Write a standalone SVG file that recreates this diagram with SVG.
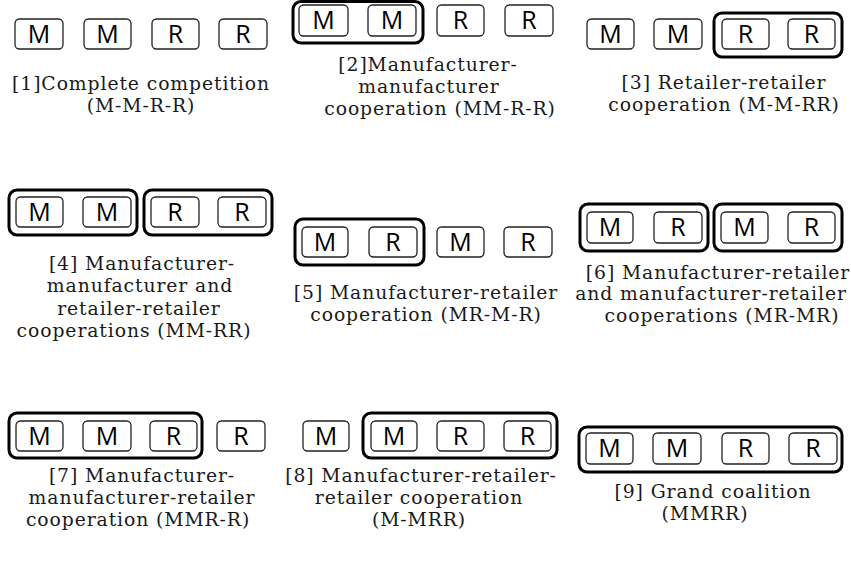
<svg xmlns="http://www.w3.org/2000/svg" width="851" height="563" viewBox="0 0 851 563">
<style>
.b{fill:#fff;stroke:#222;stroke-width:1.3}
.o{fill:none;stroke:#000;stroke-width:3}
.l{font-family:"Open Sans","Liberation Sans",sans-serif;font-size:25px;fill:#000;text-anchor:middle}
.c{font-family:"DejaVu Serif","Liberation Serif",serif;font-size:18.8px;letter-spacing:0.9px;fill:#1a1a1a;text-anchor:middle}
</style>
<rect width="851" height="563" fill="#fff"/>
<g id="connectors"/>
<!-- Panel 1 -->
<g id="p1">
<g id="p1-m1"><rect class="b" x="15" y="19" width="48" height="30" rx="4.5"/><text class="l" x="39" y="43">M</text></g>
<g id="p1-m2"><rect class="b" x="84" y="19" width="47" height="30" rx="4.5"/><text class="l" x="107.5" y="43">M</text></g>
<g id="p1-r1"><rect class="b" x="152" y="19" width="47" height="30" rx="4.5"/><text class="l" x="175.5" y="43">R</text></g>
<g id="p1-r2"><rect class="b" x="219" y="19" width="48" height="30" rx="4.5"/><text class="l" x="243" y="43">R</text></g>
<text class="c" x="141" y="89.5">[1]Complete competition</text>
<text class="c" x="141" y="111.5">(M-M-R-R)</text>
</g>
<!-- Panel 2 -->
<g id="p2">
<rect class="o" x="293" y="1.5" width="130" height="41.5" rx="8"/>
<g id="p2-m1"><rect class="b" x="299" y="5" width="49" height="31" rx="4.5"/><text class="l" x="323.5" y="29">M</text></g>
<g id="p2-m2"><rect class="b" x="368" y="5" width="48" height="31" rx="4.5"/><text class="l" x="392" y="29">M</text></g>
<g id="p2-r1"><rect class="b" x="437" y="5" width="47" height="31" rx="4.5"/><text class="l" x="460.5" y="29">R</text></g>
<g id="p2-r2"><rect class="b" x="505" y="5" width="48" height="31" rx="4.5"/><text class="l" x="529" y="29">R</text></g>
<text class="c" x="428" y="71">[2]Manufacturer-</text>
<text class="c" x="429" y="93">manufacturer</text>
<text class="c" x="440" y="115">cooperation (MM-R-R)</text>
</g>
<!-- Panel 3 -->
<g id="p3">
<rect class="o" x="714" y="13" width="128" height="44" rx="8"/>
<g id="p3-m1"><rect class="b" x="587" y="19" width="47" height="30" rx="4.5"/><text class="l" x="610.5" y="43">M</text></g>
<g id="p3-m2"><rect class="b" x="654" y="19" width="48" height="30" rx="4.5"/><text class="l" x="678" y="43">M</text></g>
<g id="p3-r1"><rect class="b" x="722" y="19" width="47" height="30" rx="4.5"/><text class="l" x="745.5" y="43">R</text></g>
<g id="p3-r2"><rect class="b" x="788" y="19" width="47" height="30" rx="4.5"/><text class="l" x="811.5" y="43">R</text></g>
<text class="c" x="724" y="88.5">[3] Retailer-retailer</text>
<text class="c" x="724" y="110.5">cooperation (M-M-RR)</text>
</g>
<!-- Panel 4 -->
<g id="p4">
<rect class="o" x="9" y="190" width="128" height="45" rx="8"/>
<rect class="o" x="144" y="190" width="128" height="45" rx="8"/>
<g id="p4-m1"><rect class="b" x="16" y="197" width="47" height="30" rx="4.5"/><text class="l" x="39.5" y="221">M</text></g>
<g id="p4-m2"><rect class="b" x="83" y="197" width="48" height="30" rx="4.5"/><text class="l" x="107" y="221">M</text></g>
<g id="p4-r1"><rect class="b" x="151" y="197" width="48" height="30" rx="4.5"/><text class="l" x="175" y="221">R</text></g>
<g id="p4-r2"><rect class="b" x="218" y="197" width="48" height="30" rx="4.5"/><text class="l" x="242" y="221">R</text></g>
<text class="c" x="142" y="269.5">[4] Manufacturer-</text>
<text class="c" x="140" y="292">manufacturer and</text>
<text class="c" x="139" y="314.5">retailer-retailer</text>
<text class="c" x="134" y="337">cooperations (MM-RR)</text>
</g>
<!-- Panel 5 -->
<g id="p5">
<rect class="o" x="295" y="219" width="129" height="46" rx="8"/>
<g id="p5-m1"><rect class="b" x="302" y="227" width="46" height="30" rx="4.5"/><text class="l" x="325" y="251">M</text></g>
<g id="p5-r1"><rect class="b" x="369" y="227" width="48" height="30" rx="4.5"/><text class="l" x="393" y="251">R</text></g>
<g id="p5-m2"><rect class="b" x="437" y="227" width="47" height="30" rx="4.5"/><text class="l" x="460.5" y="251">M</text></g>
<g id="p5-r2"><rect class="b" x="504" y="227" width="48" height="30" rx="4.5"/><text class="l" x="528" y="251">R</text></g>
<text class="c" x="426" y="298.5">[5] Manufacturer-retailer</text>
<text class="c" x="426" y="320.5">cooperation (MR-M-R)</text>
</g>
<!-- Panel 6 -->
<g id="p6">
<rect class="o" x="580" y="204" width="128" height="47" rx="8"/>
<rect class="o" x="714" y="204" width="128" height="47" rx="8"/>
<g id="p6-m1"><rect class="b" x="587" y="212" width="46" height="31" rx="4.5"/><text class="l" x="610" y="236">M</text></g>
<g id="p6-r1"><rect class="b" x="654" y="212" width="48" height="31" rx="4.5"/><text class="l" x="678" y="236">R</text></g>
<g id="p6-m2"><rect class="b" x="721" y="212" width="47" height="31" rx="4.5"/><text class="l" x="744.5" y="236">M</text></g>
<g id="p6-r2"><rect class="b" x="788" y="212" width="47" height="31" rx="4.5"/><text class="l" x="811.5" y="236">R</text></g>
<text class="c" x="718" y="278.5">[6] Manufacturer-retailer</text>
<text class="c" x="711" y="300">and manufacturer-retailer</text>
<text class="c" x="722" y="322">cooperations (MR-MR)</text>
</g>
<!-- Panel 7 -->
<g id="p7">
<rect class="o" x="9" y="413" width="193" height="45" rx="8"/>
<g id="p7-m1"><rect class="b" x="16" y="421" width="47" height="30" rx="4.5"/><text class="l" x="39.5" y="445">M</text></g>
<g id="p7-m2"><rect class="b" x="83" y="421" width="48" height="30" rx="4.5"/><text class="l" x="107" y="445">M</text></g>
<g id="p7-r1"><rect class="b" x="150" y="421" width="47" height="30" rx="4.5"/><text class="l" x="173.5" y="445">R</text></g>
<g id="p7-r2"><rect class="b" x="217" y="421" width="48" height="30" rx="4.5"/><text class="l" x="241" y="445">R</text></g>
<text class="c" x="142" y="482">[7] Manufacturer-</text>
<text class="c" x="142" y="504">manufacturer-retailer</text>
<text class="c" x="138" y="526">cooperation (MMR-R)</text>
</g>
<!-- Panel 8 -->
<g id="p8">
<rect class="o" x="363" y="413" width="194" height="45" rx="8"/>
<g id="p8-m1"><rect class="b" x="303" y="421" width="46" height="30" rx="4.5"/><text class="l" x="326" y="445">M</text></g>
<g id="p8-m2"><rect class="b" x="371" y="421" width="46" height="30" rx="4.5"/><text class="l" x="394" y="445">M</text></g>
<g id="p8-r1"><rect class="b" x="437" y="421" width="47" height="30" rx="4.5"/><text class="l" x="460.5" y="445">R</text></g>
<g id="p8-r2"><rect class="b" x="504" y="421" width="47" height="30" rx="4.5"/><text class="l" x="527.5" y="445">R</text></g>
<text class="c" x="421" y="482">[8] Manufacturer-retailer-</text>
<text class="c" x="419" y="504">retailer cooperation</text>
<text class="c" x="419" y="526">(M-MRR)</text>
</g>
<!-- Panel 9 -->
<g id="p9">
<rect class="o" x="579" y="427" width="263" height="45" rx="8"/>
<g id="p9-m1"><rect class="b" x="586" y="433" width="47" height="31" rx="4.5"/><text class="l" x="609.5" y="457">M</text></g>
<g id="p9-m2"><rect class="b" x="653" y="433" width="48" height="31" rx="4.5"/><text class="l" x="677" y="457">M</text></g>
<g id="p9-r1"><rect class="b" x="722" y="433" width="47" height="31" rx="4.5"/><text class="l" x="745.5" y="457">R</text></g>
<g id="p9-r2"><rect class="b" x="789" y="433" width="48" height="31" rx="4.5"/><text class="l" x="813" y="457">R</text></g>
<text class="c" x="713" y="498">[9] Grand coalition</text>
<text class="c" x="705" y="520">(MMRR)</text>
</g>
</svg>
